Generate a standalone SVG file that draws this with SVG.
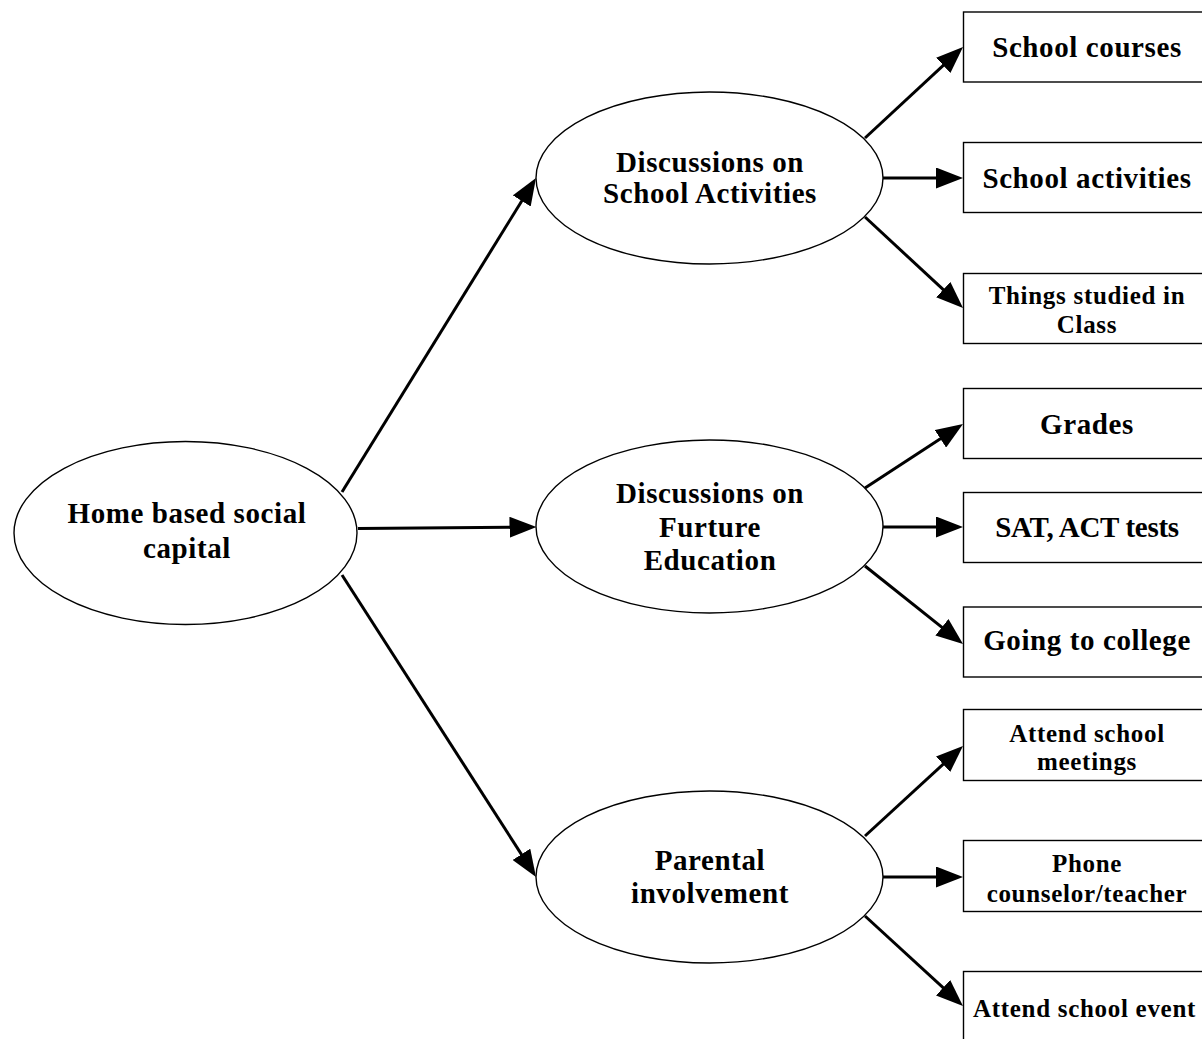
<svg xmlns="http://www.w3.org/2000/svg" width="1202" height="1039" viewBox="0 0 1202 1039">
<style>
.node ellipse, .node rect { fill: #ffffff; stroke: #000000; stroke-width: 1.4; }
text { font-family: "Liberation Serif", "Times New Roman", serif; font-weight: bold; fill: #000000; text-anchor: middle; }
.big { font-size: 29px; letter-spacing: 0.6px; }
.small { font-size: 25px; letter-spacing: 0.7px; }
#connectors line { stroke: #000000; stroke-width: 3; marker-end: url(#arrow); }
</style>
<defs>
<marker id="arrow" markerUnits="userSpaceOnUse" markerWidth="27" markerHeight="21" refX="17" refY="10.5" orient="auto">
<path d="M0,0 L27,10.5 L0,21 z" fill="#000000"/>
</marker>
</defs>
<rect x="0" y="0" width="1202" height="1039" fill="#ffffff"/>
<g id="connectors">
<line x1="342" y1="492" x2="530.7" y2="186.5"/>
<line x1="358" y1="528.5" x2="526.5" y2="527.1"/>
<line x1="342" y1="575" x2="530.6" y2="868.6"/>
<line x1="865" y1="138" x2="955.7" y2="53.8"/>
<line x1="883" y1="178" x2="953" y2="178"/>
<line x1="865" y1="217" x2="955.7" y2="301.2"/>
<line x1="865" y1="488" x2="954.6" y2="429.5"/>
<line x1="883" y1="527" x2="953" y2="527"/>
<line x1="865" y1="566" x2="955.2" y2="637.8"/>
<line x1="865" y1="836" x2="955.6" y2="752.8"/>
<line x1="883" y1="877" x2="953" y2="877"/>
<line x1="865" y1="916" x2="955.6" y2="999.2"/>
</g>
<g id="home" class="node">
<ellipse cx="185.5" cy="533" rx="171.5" ry="91.5"/>
<text class="big" x="187" y="523">Home based social</text>
<text class="big" x="187" y="558">capital</text>
</g>
<g id="discussions-school" class="node">
<ellipse cx="709.5" cy="178" rx="173.5" ry="86"/>
<text class="big" x="710" y="172">Discussions on</text>
<text class="big" x="710" y="203">School Activities</text>
</g>
<g id="discussions-future" class="node">
<ellipse cx="709.5" cy="526.5" rx="173.5" ry="86.5"/>
<text class="big" x="710" y="503">Discussions on</text>
<text class="big" x="710" y="537">Furture</text>
<text class="big" x="710" y="570">Education</text>
</g>
<g id="parental" class="node">
<ellipse cx="709.5" cy="877" rx="173.5" ry="86"/>
<text class="big" x="710" y="870">Parental</text>
<text class="big" x="710" y="903">involvement</text>
</g>
<g id="school-courses" class="node">
<rect x="963.5" y="12" width="250" height="70"/>
<text class="big" x="1087" y="57">School courses</text>
</g>
<g id="school-activities" class="node">
<rect x="963.5" y="142.5" width="250" height="70"/>
<text class="big" x="1087" y="188">School activities</text>
</g>
<g id="things-studied" class="node">
<rect x="963.5" y="273.5" width="250" height="70"/>
<text class="small" x="1087" y="304">Things studied in</text>
<text class="small" x="1087" y="333">Class</text>
</g>
<g id="grades" class="node">
<rect x="963.5" y="388.5" width="250" height="70"/>
<text class="big" x="1087" y="434">Grades</text>
</g>
<g id="sat-act" class="node">
<rect x="963.5" y="492.5" width="250" height="70"/>
<text class="big" x="1087" y="537" style="letter-spacing:-0.3px">SAT, ACT tests</text>
</g>
<g id="college" class="node">
<rect x="963.5" y="607" width="250" height="70"/>
<text class="big" x="1087" y="650">Going to college</text>
</g>
<g id="meetings" class="node">
<rect x="963.5" y="709.5" width="250" height="71"/>
<text class="small" x="1087" y="742">Attend school</text>
<text class="small" x="1087" y="770">meetings</text>
</g>
<g id="phone" class="node">
<rect x="963.5" y="840.5" width="250" height="71"/>
<text class="small" x="1087" y="872">Phone</text>
<text class="small" x="1087" y="902">counselor/teacher</text>
</g>
<g id="events" class="node">
<rect x="963.5" y="971.5" width="250" height="80"/>
<text class="small" x="973" y="1017" style="text-anchor:start">Attend school event</text>
</g>
</svg>
